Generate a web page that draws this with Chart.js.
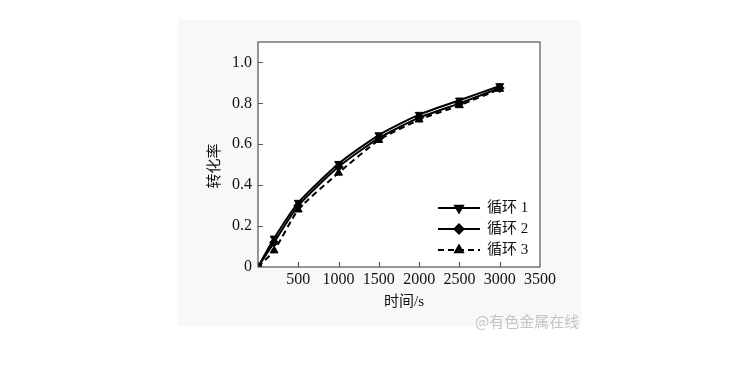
<!DOCTYPE html>
<html>
<head>
<meta charset="utf-8">
<script src="https://cdn.jsdelivr.net/npm/chart.js@4.4.1/dist/chart.umd.min.js"></script>
<style>
  html, body { margin: 0; padding: 0; background: #fff; }
  #wrap { position: relative; width: 730px; height: 386px; }
</style>
</head>
<body>
<div id="wrap"><canvas id="chart" width="730" height="386"></canvas></div>
<script>
// data
const times = [0, 200, 500, 1000, 1500, 2000, 2500, 3000];
const cycle1 = [0, 0.14, 0.315, 0.505, 0.645, 0.745, 0.815, 0.885];
const cycle2 = [0, 0.12, 0.30, 0.49, 0.63, 0.73, 0.80, 0.875];
const cycle3 = [0, 0.08, 0.28, 0.46, 0.62, 0.72, 0.79, 0.87];
const seriesNames = ['循环 1', '循环 2', '循环 3'];
const xTicks = [500, 1000, 1500, 2000, 2500, 3000, 3500];
const yTicks = [0, 0.2, 0.4, 0.6, 0.8, 1.0];

const serif = '"Liberation Serif", "Noto Sans CJK SC", serif';

function toPoints(vals) {
    return times.map((t, i) => ({ x: t, y: vals[i] }));
}

// --- custom drawing: background panel, frame, inward ticks, titles, legend ---
const decor = {
    id: 'decor',
    beforeDraw(chart) {
        const ctx = chart.ctx;
        ctx.save();
        ctx.fillStyle = '#f8f8f8';
        ctx.fillRect(178, 20, 403, 306);
        ctx.fillStyle = '#ffffff';
        const a = chart.chartArea;
        ctx.fillRect(a.left, a.top, a.right - a.left, a.bottom - a.top);
        ctx.restore();
    },
    afterDatasetsDraw(chart) {
        const ctx = chart.ctx;
        const a = chart.chartArea;
        const xs = chart.scales.x, ys = chart.scales.y;
        ctx.save();
        // frame
        ctx.strokeStyle = '#555';
        ctx.lineWidth = 1.2;
        ctx.strokeRect(a.left, a.top, a.right - a.left, a.bottom - a.top);
        // inward ticks
        ctx.beginPath();
        xTicks.forEach(v => {
            if (v >= xs.max) return;
            const px = Math.round(xs.getPixelForValue(v)) + 0.5;
            ctx.moveTo(px, a.bottom);
            ctx.lineTo(px, a.bottom - 5);
        });
        yTicks.forEach(v => {
            if (v <= ys.min) return;
            const py = Math.round(ys.getPixelForValue(v)) + 0.5;
            ctx.moveTo(a.left, py);
            ctx.lineTo(a.left + 5, py);
        });
        ctx.stroke();

        // axis titles
        ctx.fillStyle = '#111';
        ctx.font = '15px ' + serif;
        ctx.textAlign = 'center';
        ctx.textBaseline = 'middle';
        ctx.fillText('时间/s', 404, 302);
        ctx.save();
        ctx.translate(215, 166);
        ctx.rotate(-Math.PI / 2);
        ctx.fillText('转化率', 0, 0);
        ctx.restore();

        // legend
        const rows = [208, 229, 250];
        chart.data.datasets.forEach((ds, i) => {
            const y = rows[i];
            ctx.strokeStyle = ds.borderColor;
            ctx.lineWidth = ds.borderWidth;
            ctx.setLineDash(ds.borderDash || []);
            ctx.beginPath();
            ctx.moveTo(438, y);
            ctx.lineTo(480, y);
            ctx.stroke();
            ctx.setLineDash([]);
            Chart.helpers.drawPoint(ctx, {
                pointStyle: ds.pointStyle,
                rotation: ds.pointRotation || 0,
                radius: ds.pointRadius,
                borderWidth: 1
            }, 459, y);
            ctx.fillStyle = '#111';
            ctx.font = '15px ' + serif;
            ctx.textAlign = 'left';
            ctx.fillText(ds.label, 487, y);
        });

        // watermark
        ctx.fillStyle = '#c4c4c4';
        ctx.font = '15px "Noto Sans CJK SC", sans-serif';
        ctx.textAlign = 'left';
        ctx.fillText('@有色金属在线', 475, 321);
        ctx.restore();
    }
};

function seriesStyle(label, vals, style, rot, dash) {
    return {
        label: label,
        data: toPoints(vals),
        borderColor: '#000',
        backgroundColor: '#000',
        borderWidth: 2,
        borderDash: dash,
        pointStyle: style,
        pointRotation: rot,
        pointRadius: 4.5,
        pointBorderWidth: 1,
        tension: 0.2
    };
}

new Chart(document.getElementById('chart'), {
    type: 'line',
    data: {
        datasets: [
            seriesStyle(seriesNames[0], cycle1, 'triangle', 180, []),
            seriesStyle(seriesNames[1], cycle2, 'rectRot', 0, []),
            seriesStyle(seriesNames[2], cycle3, 'triangle', 0, [6, 4])
        ]
    },
    options: {
        responsive: false,
        animation: false,
        layout: { padding: { left: 0, top: 42, right: 190, bottom: 0 } },
        plugins: { legend: { display: false }, tooltip: { enabled: false } },
        scales: {
            x: {
                type: 'linear',
                min: 0, max: 3500,
                afterFit: s => { s.height = 386 - 267; },
                afterBuildTicks: s => { s.ticks = xTicks.map(v => ({ value: v })); },
                grid: { display: false, drawTicks: false },
                border: { display: false },
                ticks: {
                    color: '#111', font: { family: serif, size: 16 }, padding: 3, maxRotation: 0,
                    callback: v => String(v)
                }
            },
            y: {
                min: 0, max: 1.1,
                afterFit: s => { s.width = 258; },
                afterBuildTicks: s => { s.ticks = yTicks.map(v => ({ value: v })); },
                grid: { display: false, drawTicks: false },
                border: { display: false },
                ticks: {
                    color: '#111', font: { family: serif, size: 16 }, padding: 6,
                    callback: v => v === 0 ? '0' : v.toFixed(1)
                }
            }
        }
    },
    plugins: [decor]
});
</script>
</body>
</html>
